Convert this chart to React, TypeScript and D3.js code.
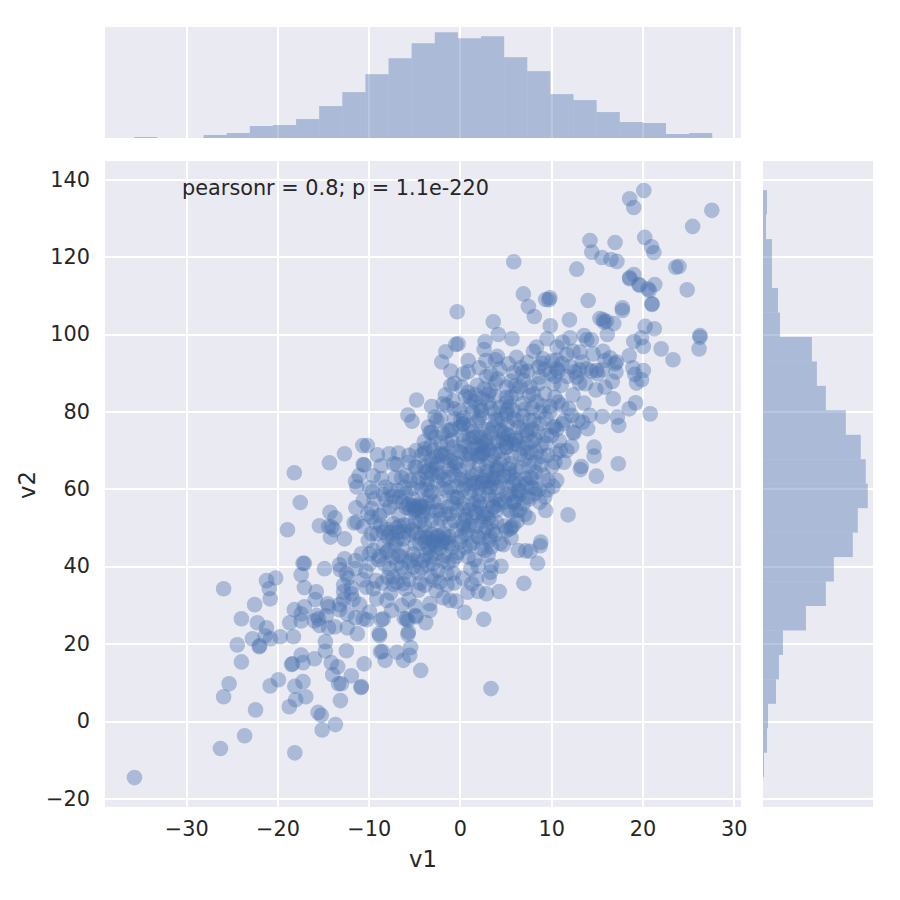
import React, { useEffect, useRef } from "react";
import * as d3 from "d3";

// histogram heights
const v1Counts = [1, 0, 0, 3, 5, 12, 13, 19, 32, 46, 64, 80, 95, 106, 100, 102, 81, 67, 44, 38, 26, 16, 15, 4, 5];
const v2Counts = [4, 3, 9, 9, 15, 17, 49, 54, 63, 83, 98, 103, 105, 95, 90, 71, 63, 43, 20, 16, 13, 5, 4, 1];
const v1BinRange = [-35.7, 27.65];
const v2BinRange = [137.2, -14.5];

const xTicks = [-30, -20, -10, 0, 10, 20, 30];
const yTicks = [-20, 0, 20, 40, 60, 80, 100, 120, 140];

type Pt = [number, number];

const lowerTail: Pt[] = [
  [-35.67, -14.6], [-26.25, -7.1], [-23.6, -3.8], [-18.1, -8.2], [-22.4, 2.9], [-15.1, -2.3], [-13.65, -0.9], [-15.55, 2.25],
  [-15.2, 1.5], [-18.7, 3.7], [-18.0, 5.5], [-16.9, 6.3], [-25.9, 6.3], [-25.3, 9.65], [-20.8, 9.1], [-19.9, 10.7],
  [-18.1, 9], [-17.2, 10.2], [-13.1, 5.3], [-13.95, 12], [-13.3, 9.65], [-13.0, 9.65], [-11.9, 11.7], [-10.8, 8.9],
  [-10.5, 14.8], [-14.1, 15.1], [-13.4, 14.05], [-12.45, 18.2], [-8.7, 17.9], [-14.75, 18.1], [-14.75, 20.5], [-15.95, 16.1],
  [-17.4, 17.1], [-17.2, 15.1], [-18.45, 14.65], [-18.35, 14.8], [-23.95, 15.3], [-24.4, 19.7], [-22.75, 21.3], [-22, 19.2],
  [-21.95, 19.5], [-21.35, 22.05], [-20.75, 21.3], [-19.7, 21.8], [-18.25, 21.8], [-21.2, 24.1], [-22.2, 25.4], [-23.95, 26.45],
  [-22.5, 30.1], [-25.9, 34.2], [-20.8, 31.6], [-20.9, 34.2], [-21.2, 36.3], [-20.2, 37], [-17.4, 37.8], [-17.2, 40.8],
  [-17.05, 40.75], [-17.05, 34.5], [-14.85, 39.4], [-15.75, 33.4], [-15.85, 31.4], [-18.15, 28.8], [-17.05, 29.55], [-17.4, 27.7],
  [-17.4, 25.9], [-18.65, 25.4], [-15.95, 25.9], [-15.5, 26.45], [-15.4, 24.7], [-15.7, 27.3], [-14.5, 30.3], [-14.4, 29.55],
  [-14.65, 27.2], [-14.4, 24.1], [-13.7, 24.4], [-13.2, 30.1], [-13.2, 28.8], [-12.35, 27.7], [-12.35, 24.1], [-11.25, 22.6],
  [-11.45, 26.7], [-11.0, 30.1], [-11.7, 31.4], [-12.75, 31.4], [-12.75, 33.4], [-12.75, 35.2], [-11.9, 34.5], [-11.9, 32.9],
  [-12.45, 38.1], [-12.25, 37], [-13.2, 40.4], [-12.65, 41.95], [-13.1, 39.1], [-11.45, 41.5], [-11.45, 39.4], [-10.8, 43.25],
  [-9.9, 43.25], [-9.9, 40.65], [-9.5, 44.1], [-10.6, 36.5], [-10.25, 34.6], [-9.5, 34.2], [-9.15, 31.6], [-9.9, 28.2],
  [-10.6, 26.45], [-10.2, 26.2], [-8.85, 22.6], [-8.6, 26.2],
  [3.4, 8.4], [-4.3, 13.1], [-5.4, 19], [-5.7, 22.4], [-5.7, 26], [-6.1, 26.5], [-4.8, 27], [-6.2, 15.7], [-8.2, 15.7],
  [-8.5, 18], [-6.9, 17.8], [-5.5, 17], [-10.85, 8.7], [-8.8, 22.1],
];

const lowerMiddle: Pt[] = [
  [-18.15, 64.2], [-14.3, 66.75], [-12.65, 69.1], [-10.65, 71.2], [-10.15, 71.2], [-9.05, 68.8], [-7.75, 69.1], [-6.75, 69.3],
  [-7.25, 66.5], [-8.65, 66], [-10.5, 66.2], [-10.6, 66.3], [-5.65, 66.9], [-5.7, 79.1], [-5.25, 77.5], [-11.05, 63.5],
  [-11.45, 61.95], [-11.3, 60.5], [-9.5, 63.4], [-7.1, 62.9], [-6.4, 62.9], [-5.45, 62.2], [-4.75, 65.6], [-3.75, 64.35],
  [-3.65, 62.6], [-9.6, 59.3], [-8.2, 60.5], [-17.5, 56.5], [-10.6, 57], [-11.4, 55.15], [-9.7, 54.9], [-14.25, 53.95],
  [-13.7, 52.55], [-15.4, 50.5], [-14.4, 50.3], [-14.05, 50.15], [-13.8, 49.45], [-14.2, 47.55], [-12.65, 47.1], [-18.9, 49.45],
  [-11.6, 51.2], [-11.3, 51.45], [-10.6, 50.3], [-9.7, 52.7], [-8.8, 53.15], [-8.1, 57.2], [-7.7, 55.3], [-6.6, 57.9],
  [-5.1, 55.5], [-4.4, 55.3], [-5.65, 56], [-4.9, 54.45], [-3.85, 55.3], [-3.35, 58.3], [-7.3, 51], [-8.4, 48.85],
  [-9.1, 48.4], [-6.75, 48.85], [-6.2, 47.15], [-10.05, 46.7],
  [-7.85, 44.1], [-6.4, 42.4], [-7.1, 45.85], [-4.4, 45.85], [-3.65, 47.55], [-2.55, 47.55], [-1.85, 46.7], [-1.45, 46.3],
  [-2.9, 46.3], [-4.0, 41.5], [-3.5, 40.2], [-2.95, 40.65], [-5.1, 39.8],
  [-8.4, 26.45], [-5.85, 26.45], [-4.9, 27.3], [-3.75, 25.45], [-5.65, 23], [-3.3, 30.35], [-3.3, 28.6],
  [-7.5, 28.6], [-8.0, 31.2], [-7.3, 37.2], [-6.2, 35.5], [-6.0, 34.2],
  [-4.55, 33.8], [-3.85, 35.1], [-1.85, 31.9], [-1.1, 31.2], [-0.4, 31], [0.5, 28.1], [2.6, 26.3], [-0.6, 35.7],
  [0.85, 33.3], [2.0, 33.5], [2.9, 32.9], [4.3, 33.5], [1.3, 35.5], [1.8, 36.8], [3.2, 37], [3.35, 38.5], [4.5, 40],
  [2.0, 40.1], [0.9, 42.4], [3.45, 40.2], [4.75, 45.6], [6.4, 44.1], [2.75, 44.1], [3.2, 46.7], [3.45, 45], [5.5, 49.7],
  [5.85, 50.6], [4.0, 54.45], [6.2, 54.45], [-0.75, 41.5], [-1.45, 38.1], [0, 46.3], [0.4, 50.1], [-2.2, 54.45],
  [-0.75, 56.2], [0.35, 56.2], [2.2, 56.2], [3.65, 55.3], [2.9, 60.5], [1.85, 61.75], [0.35, 60], [-1.3, 63], [-2.55, 66.5],
  [-1.45, 68.2], [-0.4, 66.5], [-3.85, 70.4], [-2.9, 69.95], [2.35, 69.1], [1.1, 73], [1.8, 73.4], [-1.3, 75.1],
  [-2.55, 77.7], [-3.45, 76], [-2.75, 78.6], [-1.45, 81.6], [0, 80.3], [0.35, 76.8], [2.35, 80.3], [5.1, 80.3], [5.1, 70.8],
  [4, 65.6], [5.85, 61.3], [6.2, 57.9], [5.5, 63.9], [-4.75, 83],
  [7.2, 44], [8.8, 45.3], [8.5, 40.8], [7.7, 43.9], [7, 35.6],
];

const upperMiddle: Pt[] = [
  [6.95, 110.4], [7.5, 107.15], [8.15, 104.55], [9.4, 108.95], [9.85, 109.4], [9.75, 108.9], [14.05, 108.7], [-0.3, 105.8],
  [3.65, 103.2], [4.2, 99.9], [5.7, 98.8], [9.9, 102.15], [12, 103.7], [9.55, 98.8], [12.05, 99.05], [13.6, 99.65],
  [13.9, 98.55], [15.35, 104.05], [15.7, 103.7], [16.05, 103.35], [16.85, 102.75], [15.8, 103.1], [17.8, 106.8], [17.8, 106.1],
  [16.15, 99.9], [20.3, 102], [21.3, 101.4], [19.05, 98.1], [19.9, 99.05], [20.1, 96.8], [22.05, 96.2], [23.35, 93.4],
  [24.9, 111.45], [21.05, 107.85], [21.05, 107.7], [20.75, 111.3], [20.6, 111.7], [19.7, 112.65], [21.35, 112.85], [18.6, 114.3],
  [26.3, 99.65], [26.3, 99.2], [26.2, 96.2], [18.55, 94.4], [16.45, 93.9], [17.15, 92.8], [17, 92.35], [18.95, 91.3],
  [20.1, 90.6], [19.15, 89.6], [19.9, 88.2], [19.35, 87.35], [19.25, 82.25], [18.55, 80.7], [20.85, 79.4], [16.8, 83.3],
  [16.7, 87.8], [15.9, 86.3], [14.9, 85.6], [13.75, 87.2], [15.6, 90.8], [14.95, 90.6], [14.4, 90.45], [13.9, 91.05],
  [13.1, 90.8], [12.8, 88.9], [11.75, 89.05], [14.6, 94.9], [15.7, 95.6], [14.4, 98.55], [12.4, 95.6], [13.15, 95.35],
  [11.25, 97.95], [10.65, 96.65], [11.7, 94.75], [10.6, 91.05], [10.75, 90.45], [10.25, 87.2], [8.75, 88.9], [8.6, 91.5],
  [9, 92.5], [8.4, 96.65], [8.05, 95.6], [6.65, 91.3], [6.2, 94.05], [5.3, 92.35], [4.35, 91.05], [4.1, 94.25], [2.75, 98.1],
  [2.65, 96.05], [2.85, 93.2], [2.1, 91.3], [0.9, 93.2], [-0.2, 97.5], [-0.45, 97.35], [-1.55, 95.45], [-2, 92.8], [-1, 90.45],
  [0.35, 89.75], [2.9, 89.05], [-1, 86.75], [0.2, 86.3], [0.9, 85], [7, 88], [8.05, 84.6], [9.3, 84.6], [3.3, 85.4], [5.1, 86.3],
  [5.1, 83.7], [2.4, 83.3], [10.75, 82.45], [11.15, 81.6], [9.85, 79.85], [8.75, 79.85], [11.25, 76.85], [10.4, 76.15],
  [12.25, 79], [12.95, 77.7], [13.6, 82.2], [13.45, 77.25], [14.25, 79], [14, 75.55], [15.6, 78.7], [17.25, 78.55], [17.4, 76.4],
  [12.5, 74.45], [12.25, 71], [14.7, 70.8], [14.7, 68.5], [17.35, 66.5], [13.3, 65.8], [13.2, 65], [14.95, 63.3], [11.85, 53.3],
  [11.0, 69.95], [11.7, 69.95], [10.4, 66.9], [11.4, 66.9], [10.6, 62.2], [10.2, 60.65], [9.65, 62.2], [8.3, 64.35], [9.3, 57.9],
  [8.75, 56.6], [9.4, 54.45], [7.5, 52.55], [6.55, 54.45], [6.95, 56.15], [5.65, 50.15], [5.1, 49.25], [8.85, 46.25], [8.2, 58.75],
  [7.3, 61.35], [6.55, 61.35], [10.2, 76], [9.5, 73.8], [10.05, 73.8], [8.75, 76.85], [7.65, 77.7], [7.3, 75.1], [6.2, 77.7],
  [5.1, 79.4], [3.65, 76], [2.2, 73.4], [1.45, 73.4], [0, 76], [-1.1, 75.1], [0.35, 76.8], [-0.75, 82.85], [-1.85, 82], [2.2, 81.15],
  [3.8, 79.85], [5.85, 80.3], [7.3, 71.65], [8.4, 69.5], [5.1, 70.8], [2.55, 69.1], [1.1, 69.1], [-0.55, 66.9], [0, 64.8],
  [1.45, 61.35], [2.55, 62.2], [4, 64.8], [5.5, 66.5], [5.5, 58.75], [3.65, 55.3], [1.45, 56.15], [-0.35, 57.9], [-1.45, 59.6],
  [0.35, 51], [2.55, 52.7], [4, 51.45], [-1.1, 53.6], [-1.8, 48.4], [3.3, 47.55], [6.55, 59.6], [7.65, 63], [6.2, 72.5],
  [4.75, 74.25], [2.9, 72.5], [-0.75, 70.8], [-1.65, 69.1],
];

const upperTail: Pt[] = [
  [20.15, 137.1], [18.6, 135], [19.05, 132.75], [27.6, 132], [25.5, 127.85], [20.25, 125], [14.25, 124.2], [17, 123.7],
  [21, 122.6], [21.25, 121.1], [14.45, 121.2], [15.55, 119.8], [16.55, 119.3], [17.2, 118.8], [5.9, 118.7], [12.8, 116.8],
  [23.65, 117.3], [24, 117.5], [19.05, 115.4], [18.6, 114.6], [19.6, 112.85],
];

// dense centre: overlapping discs, estimated
const coreLow: Pt[] = [
  [-5.5, 54.8], [-5.2, 55.6], [-4.8, 54.9], [-4.5, 56.1], [-4.1, 54.3], [-5.9, 55.2], [-4.3, 55.7], [-5, 53.9], [-3.6, 56.4], [-6.3, 56.7],
  [-3.4, 47.2], [-2.9, 46.6], [-2.4, 47.9], [-2, 46.1], [-3.8, 46.4], [-1.6, 47.4], [-2.7, 45.5], [-3.1, 48.3], [-4.3, 47.5], [-1.2, 45.9],
  [-4.8, 48.6], [-2.2, 44.6], [-3.5, 44.9], [-8.1, 49.6], [-7.6, 48.7], [-7.0, 49.9], [-6.6, 50.4], [-7.9, 47.6], [-8.7, 50.6], [-6.1, 48.9],
  [-5.7, 50.6], [-5.2, 49.4], [-6.9, 46.8], [-4.9, 51.4], [-3.9, 50.7], [-3.1, 51.9], [-2.1, 52.3], [-1.1, 51.1], [-4.1, 52.9], [-0.4, 49.4],
  [-8.8, 42.6], [-8.3, 40.6], [-8, 43.7], [-7.4, 42.3], [-6.9, 40.7], [-6.4, 39.6], [-5.6, 41.1],
  [-5.1, 43.2], [-4.7, 41.9], [-3.2, 42.4], [-2.6, 43.4], [-1.7, 42.8], [-7.9, 37.1], [-6.9, 35.9], [-8.5, 35.7], [-4.6, 38.4], [-3.1, 37.4], [-2.2, 35.9], [-1.3, 40.9],
  [-0.2, 43.6], [0.6, 44.9], [1.4, 46.1], [2.1, 47.4],
];

const coreMid: Pt[] = [
  [3.1, 62.1], [3.6, 61.4], [2.8, 63.2], [3.9, 62.9], [2.4, 61.6], [3.3, 60.4], [4.4, 61.7], [2.1, 60.1], [4.8, 63.4], [1.8, 63.9],
  [3, 64.6], [4.1, 65.1], [1.2, 62.6], [0.6, 61.1], [5.2, 60.4], [2.3, 70.8], [2.8, 71.6], [1.9, 71.2], [3.2, 70.2], [2.6, 69.6],
  [3.7, 71.9], [1.4, 70.4], [3.6, 68.6], [2.1, 68.4], [1.1, 67.5], [4.3, 69.9], [0.7, 68.9], [3.2, 67.1], [2.1, 66.1], [4.7, 67.6],
  [5.6, 72.6], [6.1, 73.1], [5.1, 71.9], [6.4, 71.4], [5.3, 73.9], [6.9, 70.5], [4.7, 72.9], [6.6, 68.9], [7.1, 67.6], [7.8, 69.3],
  [7.6, 65.9], [6.1, 64.9], [8.2, 66.8], [8.9, 68.4], [8.9, 71.2], [-3.4, 64.9], [-3.1, 63.9], [-2.6, 65.4], [-3.9, 65.8], [-2.1, 64.1],
  [-1.7, 62.4], [-2.6, 61.7], [-3.6, 61.2], [-1.1, 65.1], [-0.6, 63.6], [0.1, 62.4], [-1.9, 60.1], [-4.2, 59.9], [-3.1, 59.2], [-0.3, 60.6],
  [-4.6, 61.7], [-5.2, 60.1], [-5.9, 58.9], [-6.8, 59.6], [-7.4, 58.1], [-8.4, 58.6], [-2.6, 68.3], [-2.1, 69.1], [-1.1, 67.3], [-3.2, 67.4],
  [-0.1, 69.8], [0.6, 71.1], [0.3, 73.9], [-0.9, 72.6], [-2.1, 71.9], [-3.2, 71.1], [-2.7, 73.4], [-1.9, 74.4], [-3.3, 74.6], [-4.2, 68.8],
  [-4.8, 69.9], [1.1, 54.6], [1.7, 53.9], [2.1, 55.4], [1.4, 52.8], [0.6, 53.1], [2.6, 53.6], [3.1, 52.4], [2.3, 51.6], [1.8, 50.4],
  [0.9, 49.4], [2.9, 50.1], [3.6, 49.1], [2.6, 48.6], [0.1, 47.6], [0.6, 52.1], [-0.3, 54.4], [-1.3, 55.4], [-2.3, 56.6], [-2.6, 54.3],
  [-0.7, 57.9], [4.4, 57.1], [4.9, 56.6], [3.9, 57.9], [5.1, 58.4], [3.1, 58.6], [4.2, 55.9], [2.1, 58.3], [1.1, 58.9], [5.9, 56.4],
  [5.3, 54.6], [6.6, 58.6], [7.4, 57.9], [7.9, 60.4], [8.7, 59.9], [7.1, 62.6], [6.1, 62.4], [5.4, 65.1],
];

const coreHigh: Pt[] = [
  [1.1, 76.3], [1.9, 77.4], [2.7, 75.4], [3.4, 74.4], [3.9, 77.9], [2.4, 79.1], [1.4, 79.9], [0.4, 78.4], [-0.6, 78.1], [4.4, 75.1],
  [5.2, 76.6], [4.6, 78.1], [6.4, 75.9], [7.4, 74.1], [8.2, 72.9], [7.9, 75.4], [6.9, 78.9], [4.4, 81.1], [3.1, 82.4], [1.6, 82.6],
  [0.6, 83.9], [5.1, 82.4], [6.9, 82.1], [7.9, 80.9], [8.4, 82.6], [9.1, 81.4], [6.2, 84.6], [3.9, 83.9], [2.7, 85.9], [1.7, 84.4],
  [4.1, 88.4], [5.6, 87.9], [6.6, 86.4], [7.7, 86.4], [5.9, 90.1], [7.4, 90.4], [9.3, 90.9], [9.1, 93.6], [10.1, 93.1], [11.2, 92.4],
  [12.1, 91.6], [10.4, 89.1],
];

// second pass over the solid part of the cloud
const fillLow: Pt[] = [
  [-7.6, 33.1], [-5.6, 31.4], [-4.9, 29.7], [-6.4, 29.9], [-2.6, 33.7], [-9.2, 36.3], [-7.3, 35.4], [-5.6, 36.6], [-4.4, 35.7], [-2.9, 36.4],
  [-1.4, 35.2], [0.3, 36.9], [-10.3, 38.7], [-7.7, 39.4], [-6.1, 38.3], [-4.2, 39.6], [-2.4, 38.9], [-0.7, 38.2], [1.2, 39.4], [-8.9, 41.7],
  [-6.7, 42.8], [-5.3, 41.6], [-3.7, 43.1], [-1.9, 41.4], [-0.4, 42.6], [1.6, 41.7], [3.1, 42.9], [-8.4, 45.3], [-6.3, 44.4], [-4.9, 45.7],
  [-3.3, 44.3], [-0.9, 44.8], [1.1, 45.4], [2.4, 44.6], [4.4, 45.9], [-9.7, 48.4], [-7.4, 47.3], [-5.6, 48.1], [-3.9, 48.9], [-1.2, 47.6],
  [0.6, 48.4], [1.9, 47.7], [3.9, 48.3], [5.6, 47.4], [-9.3, 51.4], [-6.1, 50.7], [-4.4, 51.6], [-2.4, 50.4], [-0.6, 51.8], [1.1, 50.6],
  [3.4, 51.3], [4.9, 50.4], [6.3, 51.7], [-10.1, 53.6], [-8.3, 54.4], [-6.7, 53.3], [-3.3, 54.1], [-1.6, 53.4], [0.4, 54.8], [2.9, 53.7],
  [5.6, 54.1], [7.1, 53.4],
];

const fillMid: Pt[] = [
  [-9.4, 57.4], [-7.1, 56.6], [-5.1, 57.3], [-2.9, 56.7], [-0.2, 57.6], [1.9, 56.8], [3.4, 57.2], [5.9, 56.7], [7.6, 57.4], [-9.9, 60.3],
  [-7.6, 59.7], [-6.1, 60.4], [-3.6, 59.8], [-1.1, 60.3], [1.3, 59.7], [4.1, 60.4], [6.4, 59.6], [8.2, 60.2], [9.6, 59.7], [-8.6, 62.7],
  [-5.9, 63.4], [-4.4, 62.8], [-2.3, 63.3], [0.3, 62.9], [1.4, 63.6], [3.6, 62.7], [5.4, 63.2], [7.9, 62.8], [9.1, 63.6], [-6.9, 66.3],
  [-4.9, 65.7], [-3.1, 66.2], [-0.6, 65.8], [0.9, 66.4], [2.9, 65.7], [4.4, 66.3], [6.7, 65.6], [8.9, 66.2], [10.1, 65.8], [-5.6, 68.7],
  [-3.9, 69.3], [-1.9, 68.6], [0.1, 69.4], [1.9, 68.8], [3.9, 69.2], [5.6, 68.6], [7.4, 69.4], [9.6, 68.7], [10.6, 69.2], [-3.9, 72.3],
  [-1.4, 71.7], [0.4, 72.4], [2.4, 71.8], [4.1, 72.2], [5.9, 71.6], [7.9, 72.3], [9.4, 71.8], [10.9, 72.4],
];

const fillHigh: Pt[] = [
  [-3.1, 74.7], [-0.9, 75.4], [1.4, 74.8], [3.1, 75.3], [4.9, 74.6], [6.9, 75.2], [8.6, 74.7], [10.6, 75.4], [12.4, 74.7], [-2.1, 78.3],
  [0.1, 77.7], [2.1, 78.4], [4.1, 77.6], [5.9, 78.2], [8.1, 77.8], [9.4, 78.3], [11.4, 77.7], [-3.1, 81.3], [-0.6, 80.7], [1.1, 81.4],
  [3.4, 80.8], [5.4, 81.2], [7.1, 80.6], [9.9, 81.3], [11.9, 80.8], [-1.6, 84.3], [1.1, 83.7], [3.1, 84.4], [5.6, 83.8], [7.6, 84.2],
  [10.4, 83.7], [12.4, 84.3], [-0.6, 87.3], [1.9, 86.8], [3.9, 87.4], [6.1, 86.7], [8.6, 87.2], [11.1, 86.8], [13.1, 87.4], [0.9, 90.3],
  [3.4, 89.7], [6.9, 90.2], [9.9, 89.8], [12.6, 90.3], [15.1, 89.7], [17.1, 90.2], [3.9, 93.4], [7.4, 92.7], [10.6, 93.3], [13.4, 92.8],
  [15.9, 93.2],
];

const points = [
  ...lowerTail, ...lowerMiddle, ...upperMiddle, ...upperTail,
  ...coreLow, ...coreMid, ...coreHigh, ...fillLow, ...fillMid, ...fillHigh,
];

const BLUE = "#4C72B0";
const PANEL = "#EAEAF2";
const INK = "#262626";
const FONT = "'DejaVu Sans', sans-serif";
const TICK_SIZE = 20.8;
const LABEL_SIZE = 22.7;

function JointPlot() {
  const ref = useRef<SVGSVGElement>(null);

  useEffect(() => {
    const svg = d3.select(ref.current);
    svg.selectAll("*").remove();

    const left = 105, right = 741, top = 161, bottom = 807;
    const histTop = 27, histBottom = 138, sideLeft = 763, sideRight = 873;

    const x = d3.scaleLinear().domain([-38.9, 30.8]).range([left, right]);
    const y = d3.scaleLinear().domain([-22.2, 144.75]).range([bottom, top]);
    const hTop = d3.scaleLinear().domain([0, d3.max(v1Counts)! * 1.05]).range([histBottom, histTop]);
    const hSide = d3.scaleLinear().domain([0, d3.max(v2Counts)! * 1.05]).range([sideLeft, sideRight]);

    const panel = (px: number, py: number, w: number, h: number) =>
      svg.append("rect").attr("x", px).attr("y", py).attr("width", w).attr("height", h).attr("fill", PANEL);
    panel(left, top, right - left, bottom - top);
    panel(left, histTop, right - left, histBottom - histTop);
    panel(sideLeft, top, sideRight - sideLeft, bottom - top);

    const gridline = (g: any) =>
      g.selectAll("line").attr("stroke", "#fff").attr("stroke-width", 2).attr("shape-rendering", "crispEdges");

    // main panel grid + labels
    const xAxis: any = svg.append("g").attr("transform", `translate(0,${bottom})`)
      .call(d3.axisBottom(x).tickValues(xTicks).tickSize(0) as any);
    xAxis.selectAll("line").attr("y2", -(bottom - top));
    xAxis.selectAll("text").attr("y", 14).attr("dy", "0.71em");
    xAxis.select(".domain").remove();
    gridline(xAxis);

    const yAxis: any = svg.append("g").attr("transform", `translate(${left},0)`)
      .call(d3.axisLeft(y).tickValues(yTicks).tickSize(-(right - left)).tickPadding(15) as any);
    yAxis.select(".domain").remove();
    gridline(yAxis);

    [xAxis, yAxis].forEach((a: any) =>
      a.selectAll("text").attr("font-family", FONT).attr("font-size", TICK_SIZE).attr("fill", INK)
    );

    // marginal grids
    const topGrid: any = svg.append("g").attr("transform", `translate(0,${histBottom})`)
      .call(d3.axisTop(x).tickValues(xTicks).tickSize(histBottom - histTop).tickFormat(() => "") as any);
    topGrid.select(".domain").remove();
    gridline(topGrid);

    const sideGrid: any = svg.append("g").attr("transform", `translate(${sideLeft},0)`)
      .call(d3.axisRight(y).tickValues(yTicks).tickSize(sideRight - sideLeft).tickFormat(() => "") as any);
    sideGrid.select(".domain").remove();
    gridline(sideGrid);

    // scatter
    svg.append("g").selectAll("circle").data(points).enter().append("circle")
      .attr("cx", (d) => x(d[0]))
      .attr("cy", (d) => y(d[1]))
      .attr("r", 7.8)
      .attr("fill", BLUE)
      .attr("fill-opacity", 0.4);

    // top marginal
    const v1Step = (v1BinRange[1] - v1BinRange[0]) / v1Counts.length;
    svg.append("g").selectAll("rect").data(v1Counts).enter().append("rect")
      .attr("x", (_, i) => x(v1BinRange[0] + i * v1Step))
      .attr("width", x(v1Step) - x(0))
      .attr("y", (d) => hTop(d))
      .attr("height", (d) => histBottom - hTop(d))
      .attr("fill", BLUE)
      .attr("fill-opacity", 0.4);

    // right marginal
    const v2Step = (v2BinRange[1] - v2BinRange[0]) / v2Counts.length;
    svg.append("g").selectAll("rect").data(v2Counts).enter().append("rect")
      .attr("x", sideLeft)
      .attr("width", (d) => hSide(d) - sideLeft)
      .attr("y", (_, i) => y(v2BinRange[0] + i * v2Step))
      .attr("height", Math.abs(y(v2Step) - y(0)))
      .attr("fill", BLUE)
      .attr("fill-opacity", 0.4);

    const label = (t: string, px: number, py: number, size: number, anchor = "middle") =>
      svg.append("text").text(t).attr("x", px).attr("y", py).attr("text-anchor", anchor)
        .attr("font-family", FONT).attr("font-size", size).attr("fill", INK);

    label("v1", 423, 867, LABEL_SIZE);
    label("v2", 0, 0, LABEL_SIZE).attr("transform", "translate(35,485) rotate(-90)");
    label("pearsonr = 0.8; p = 1.1e-220", x(-30.45), y(136), TICK_SIZE, "start");
  }, []);

  return <svg ref={ref} width={900} height={900} style={{ position: "absolute", left: 0, top: 0 }} />;
}

export default function App() {
  return <JointPlot />;
}
